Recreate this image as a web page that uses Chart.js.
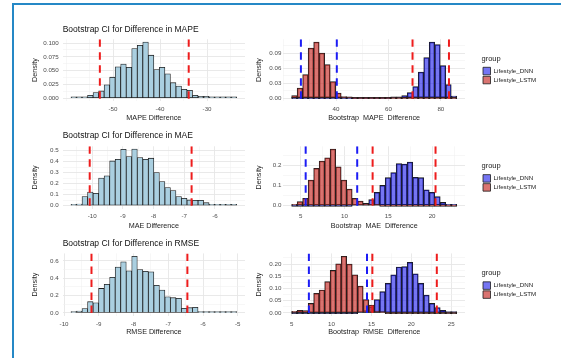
<!DOCTYPE html>
<html>
<head>
<meta charset="utf-8">
<title>Bootstrap CI histograms</title>
<script src="https://cdn.jsdelivr.net/npm/chart.js@4.4.1/dist/chart.umd.min.js"></script>
<style>
  html, body { margin: 0; padding: 0; background: #ffffff; }
  body { width: 561px; height: 358px; position: relative; overflow: hidden; }
  .frame { position: absolute; left: 12px; top: 3px; width: 549px; height: 355px;
           border-left: 2px solid #2588c6; border-top: 2px solid #2588c6; box-sizing: border-box; }
  canvas { position: absolute; }
</style>
</head>
<body>
<div class="frame"></div>
<script>
// ---------------- values ----------------
const groups = ['Lifestyle_DNN', 'Lifestyle_LSTM'];

// Difference in MAPE (bootstrap replicates, density per bin)
const mapeDiffBinStart = -58.94;
const mapeDiffBinWidth = 1.175;
const mapeDiffDensity = [0.002, 0.001, 0.001, 0.005, 0.010, 0.013, 0.024, 0.038, 0.057, 0.062,
                         0.056, 0.090, 0.096, 0.102, 0.078, 0.052, 0.056, 0.044, 0.028, 0.022,
                         0.016, 0.014, 0.005, 0.003, 0.003, 0.001, 0.002, 0.001, 0.001, 0.002];
const mapeDiffCI = [-52.8, -33.9];
const mapeDiffXTicks = [-50, -40, -30];
const mapeDiffXLabels = ['-50', '-40', '-30'];
const mapeDiffYTicks = [0, 0.025, 0.05, 0.075, 0.1];
const mapeDiffYLabels = ['0.000', '0.025', '0.050', '0.075', '0.100'];

// Bootstrap MAPE per model
const mapeBootBinStart = 23.07;
const mapeBootBinWidth = 2.1;
const mapeBootDNN = [0, 0, 0, 0, 0, 0, 0, 0, 0, 0,
                     0, 0, 0, 0, 0, 0, 0, 0, 0.001, 0.002,
                     0.005, 0.011, 0.023, 0.052, 0.081, 0.112, 0.107, 0.065, 0.027, 0.004];
const mapeBootLSTM = [0.005, 0.020, 0.047, 0.100, 0.112, 0.090, 0.067, 0.033, 0.010, 0.003,
                      0.001, 0, 0, 0, 0, 0, 0, 0, 0, 0,
                      0, 0, 0, 0, 0, 0, 0, 0, 0, 0];
const mapeBootCIBlue = [26.6, 40.3];
const mapeBootCIRed = [69.2, 83.1];
const mapeBootXTicks = [40, 60, 80];
const mapeBootXLabels = ['40', '60', '80'];
const mapeBootYTicks = [0, 0.03, 0.06, 0.09];
const mapeBootYLabels = ['0.00', '0.03', '0.06', '0.09'];

// Difference in MAE
const maeDiffBinStart = -10.69;
const maeDiffBinWidth = 0.18;
const maeDiffDensity = [0.003, 0.015, 0.082, 0.124, 0.112, 0.250, 0.270, 0.405, 0.420, 0.510,
                        0.445, 0.512, 0.436, 0.420, 0.430, 0.300, 0.218, 0.164, 0.136, 0.082,
                        0.067, 0.052, 0.048, 0.048, 0.027, 0.006, 0.003, 0.003, 0.012, 0.012];
const maeDiffCI = [-10.08, -6.76];
const maeDiffXTicks = [-10, -9, -8, -7, -6];
const maeDiffXLabels = ['-10', '-9', '-8', '-7', '-6'];
const maeDiffYTicks = [0, 0.1, 0.2, 0.3, 0.4, 0.5];
const maeDiffYLabels = ['0.0', '0.1', '0.2', '0.3', '0.4', '0.5'];

// Bootstrap MAE per model
const maeBootBinStart = 3.97;
const maeBootBinWidth = 0.628;
const maeBootDNN = [0, 0, 0, 0, 0, 0, 0, 0, 0, 0,
                    0, 0.001, 0.003, 0.008, 0.030, 0.066, 0.100, 0.138, 0.163, 0.208,
                    0.205, 0.215, 0.140, 0.138, 0.078, 0.066, 0.045, 0.016, 0.007, 0.003];
const maeBootLSTM = [0.007, 0.020, 0.036, 0.126, 0.184, 0.220, 0.236, 0.279, 0.192, 0.126,
                     0.082, 0.036, 0.023, 0.011, 0.006, 0.002, 0, 0, 0, 0,
                     0, 0, 0, 0, 0, 0, 0, 0, 0, 0];
const maeBootCIBlue = [5.57, 11.45];
const maeBootCIRed = [13.21, 20.39];
const maeBootXTicks = [5, 10, 15, 20];
const maeBootXLabels = ['5', '10', '15', '20'];
const maeBootYTicks = [0, 0.1, 0.2];
const maeBootYLabels = ['0.0', '0.1', '0.2'];

// Difference in RMSE
const rmseDiffBinStart = -9.8;
const rmseDiffBinWidth = 0.159;
const rmseDiffDensity = [0.011, 0.023, 0.050, 0.130, 0.118, 0.283, 0.330, 0.410, 0.530, 0.590,
                         0.485, 0.654, 0.500, 0.480, 0.474, 0.320, 0.264, 0.187, 0.176, 0.168,
                         0.053, 0.061, 0.065, 0.011, 0.011, 0.008, 0.004, 0.004, 0.004, 0.015];
const rmseDiffCI = [-9.21, -6.45];
const rmseDiffXTicks = [-10, -9, -8, -7, -6, -5];
const rmseDiffXLabels = ['-10', '-9', '-8', '-7', '-6', '-5'];
const rmseDiffYTicks = [0, 0.2, 0.4, 0.6];
const rmseDiffYLabels = ['0.0', '0.2', '0.4', '0.6'];

// Bootstrap RMSE per model
const rmseBootBinStart = 5.0;
const rmseBootBinWidth = 0.69;
const rmseBootDNN = [0, 0, 0, 0, 0, 0, 0, 0, 0, 0,
                     0, 0, 0.003, 0.010, 0.025, 0.055, 0.087, 0.121, 0.156, 0.188,
                     0.190, 0.207, 0.160, 0.121, 0.073, 0.039, 0.022, 0.011, 0.006, 0.002];
const rmseBootLSTM = [0.007, 0.011, 0.010, 0.039, 0.080, 0.094, 0.128, 0.174, 0.201, 0.232,
                      0.200, 0.156, 0.110, 0.055, 0.032, 0.008, 0.002, 0, 0, 0,
                      0, 0, 0, 0, 0, 0, 0, 0, 0, 0];
const rmseBootCIBlue = [7.16, 14.45];
const rmseBootCIRed = [15.12, 23.2];
const rmseBootXTicks = [5, 10, 15, 20, 25];
const rmseBootXLabels = ['5', '10', '15', '20', '25'];
const rmseBootYTicks = [0, 0.05, 0.1, 0.15, 0.2];
const rmseBootYLabels = ['0.00', '0.05', '0.10', '0.15', '0.20'];

// ---------------- styles ----------------
const FILL_DIFF = '#AACFE0';
const FILL_DNN = 'rgba(25, 25, 235, 0.6)';
const FILL_LSTM = 'rgba(200, 50, 45, 0.68)';
const OUTLINE = '#1c1c1c';
const CI_RED = '#EE1C1C';
const CI_BLUE = '#1C1CF5';
const GRID_MAJOR = '#E6E6E6';
const GRID_MINOR = '#F1F1F1';
const TEXT_DARK = '#1a1a1a';
const TEXT_TICK = '#4d4d4d';
const SIZE_TITLE = 8.5, SIZE_AXIS = 7.2, SIZE_TICK = 6.2, SIZE_LEGEND_TITLE = 7.5;

Chart.defaults.font.family = "'Liberation Sans', Arial, Helvetica, sans-serif";
Chart.defaults.color = TEXT_TICK;

// Page layout of the 3 x 2 grid of panels (pixels)
const COLS = [
  { left: 14, width: 236, plotLeft: 62.7, plotRight: 245, yTitleX: 34.7, yTickPad: 4 },
  { left: 250, width: 311, plotLeft: 283.4, plotRight: 465, yTitleX: 259, yTickPad: 2 }
];
const ROWS = [
  { top: 6, height: 118, titleY: 29.3, plotTop: 39.2, plotBottom: 100.9, xTitleY: 118 },
  { top: 124, height: 108, titleY: 136, plotTop: 146.3, plotBottom: 208.5, xTitleY: 225.7 },
  { top: 232, height: 112, titleY: 244, plotTop: 253.4, plotBottom: 315.8, xTitleY: 331.7 }
];
const LEGEND_GAP = 16.5;

const PANELS = [
  { row: 0, col: 0, title: 'Bootstrap CI for Difference in MAPE', xTitle: 'MAPE Difference',
    binStart: mapeDiffBinStart, binWidth: mapeDiffBinWidth,
    series: [{ label: 'MAPE difference', values: mapeDiffDensity, fill: FILL_DIFF }],
    ci: [{ values: mapeDiffCI, color: CI_RED }],
    xTicks: mapeDiffXTicks, xLabels: mapeDiffXLabels, yTicks: mapeDiffYTicks, yLabels: mapeDiffYLabels },
  { row: 0, col: 1, xTitle: 'Bootstrap  MAPE  Difference',
    binStart: mapeBootBinStart, binWidth: mapeBootBinWidth,
    series: [{ label: groups[0], values: mapeBootDNN, fill: FILL_DNN },
             { label: groups[1], values: mapeBootLSTM, fill: FILL_LSTM }],
    ci: [{ values: mapeBootCIBlue, color: CI_BLUE }, { values: mapeBootCIRed, color: CI_RED }],
    xTicks: mapeBootXTicks, xLabels: mapeBootXLabels, yTicks: mapeBootYTicks, yLabels: mapeBootYLabels },
  { row: 1, col: 0, title: 'Bootstrap CI for Difference in MAE', xTitle: 'MAE Difference',
    binStart: maeDiffBinStart, binWidth: maeDiffBinWidth,
    series: [{ label: 'MAE difference', values: maeDiffDensity, fill: FILL_DIFF }],
    ci: [{ values: maeDiffCI, color: CI_RED }],
    xTicks: maeDiffXTicks, xLabels: maeDiffXLabels, yTicks: maeDiffYTicks, yLabels: maeDiffYLabels },
  { row: 1, col: 1, xTitle: 'Bootstrap  MAE  Difference',
    binStart: maeBootBinStart, binWidth: maeBootBinWidth,
    series: [{ label: groups[0], values: maeBootDNN, fill: FILL_DNN },
             { label: groups[1], values: maeBootLSTM, fill: FILL_LSTM }],
    ci: [{ values: maeBootCIBlue, color: CI_BLUE }, { values: maeBootCIRed, color: CI_RED }],
    xTicks: maeBootXTicks, xLabels: maeBootXLabels, yTicks: maeBootYTicks, yLabels: maeBootYLabels },
  { row: 2, col: 0, title: 'Bootstrap CI for Difference in RMSE', xTitle: 'RMSE Difference',
    binStart: rmseDiffBinStart, binWidth: rmseDiffBinWidth,
    series: [{ label: 'RMSE difference', values: rmseDiffDensity, fill: FILL_DIFF }],
    ci: [{ values: rmseDiffCI, color: CI_RED }],
    xTicks: rmseDiffXTicks, xLabels: rmseDiffXLabels, yTicks: rmseDiffYTicks, yLabels: rmseDiffYLabels },
  { row: 2, col: 1, xTitle: 'Bootstrap  RMSE  Difference',
    binStart: rmseBootBinStart, binWidth: rmseBootBinWidth,
    series: [{ label: groups[0], values: rmseBootDNN, fill: FILL_DNN },
             { label: groups[1], values: rmseBootLSTM, fill: FILL_LSTM }],
    ci: [{ values: rmseBootCIBlue, color: CI_BLUE }, { values: rmseBootCIRed, color: CI_RED }],
    xTicks: rmseBootXTicks, xLabels: rmseBootXLabels, yTicks: rmseBootYTicks, yLabels: rmseBootYLabels }
];

// ---------------- helpers ----------------
const near = (a, b) => Math.abs(a - b) < 1e-9;

// ggplot-style minor breaks: midpoints between majors plus one extra major step on each side
function minorBreaks(major, lo, hi) {
  const step = major[1] - major[0];
  const ext = [major[0] - step, ...major, major[major.length - 1] + step];
  const out = [];
  for (let i = 0; i < ext.length; i++) {
    if (!major.some(m => near(m, ext[i]))) out.push(ext[i]);
    if (i < ext.length - 1) out.push((ext[i] + ext[i + 1]) / 2);
  }
  return out.filter(v => v > lo && v < hi);
}

function tickSet(major, labels, lo, hi) {
  const all = major.concat(minorBreaks(major, lo, hi)).sort((a, b) => a - b);
  return {
    values: all,
    isMajor: v => major.some(m => near(m, v)),
    label: v => {
      const i = major.findIndex(m => near(m, v));
      return i >= 0 ? labels[i] : '';
    }
  };
}

function gridStyle(ts) {
  return {
    drawTicks: false,
    offset: false,
    color: ctx => (ctx.tick && ts.isMajor(ctx.tick.value)) ? GRID_MAJOR : GRID_MINOR,
    lineWidth: ctx => (ctx.tick && ts.isMajor(ctx.tick.value)) ? 0.9 : 0.55
  };
}

// Places the legend to the right of the plotting area, like a ggplot guide
const legendBeside = {
  id: 'legendBeside',
  afterLayout(chart, args, opts) {
    const lg = chart.legend;
    if (!lg || !lg.options.display) return;
    const area = chart.chartArea;
    lg.left = area.right + opts.gap;
    lg.right = lg.left + lg.width;
    lg.top = area.top;
    lg.bottom = area.bottom;
    lg.height = area.bottom - area.top;
  }
};

function buildPanel(p) {
  const row = ROWS[p.row], col = COLS[p.col];
  const n = p.series[0].values.length;
  const centers = [];
  for (let i = 0; i < n; i++) centers.push(p.binStart + (i + 0.5) * p.binWidth);

  // scale limits with 5% padding around the binned range
  const span = n * p.binWidth;
  const xMin = p.binStart - 0.05 * span;
  const xMax = p.binStart + 1.05 * span;
  const peak = Math.max(...p.series.flatMap(s => s.values));
  const yMin = -0.05 * peak;
  const yMax = 1.05 * peak;

  const xTs = tickSet(p.xTicks, p.xLabels, xMin, xMax);
  const yTs = tickSet(p.yTicks, p.yLabels, yMin, yMax);

  // geometry
  const titleLH = SIZE_TITLE * 1.2, axisLH = SIZE_AXIS * 1.2;
  const yAxisWidth = col.plotLeft - col.left;
  const xAxisHeight = row.xTitleY + axisLH / 2 + 1 - row.plotBottom;
  const padRight = col.left + col.width - col.plotRight;
  const padBottom = row.top + row.height - xAxisHeight - row.plotBottom;
  const hasTitle = !!p.title;
  const padTop = hasTitle ? 0 : row.plotTop - row.top;

  const canvas = document.createElement('canvas');
  canvas.width = col.width;
  canvas.height = row.height;
  canvas.style.left = col.left + 'px';
  canvas.style.top = row.top + 'px';
  canvas.style.width = col.width + 'px';
  canvas.style.height = row.height + 'px';
  document.body.appendChild(canvas);

  const datasets = [];
  const nSeries = p.series.length;
  p.series.forEach((s, k) => {
    datasets.push({
      type: 'bar',
      label: s.label,
      data: centers.map((x, i) => ({ x: x, y: s.values[i] })),
      backgroundColor: s.fill,
      borderColor: OUTLINE,
      borderWidth: 0.8,
      borderSkipped: false,
      barPercentage: 1,
      categoryPercentage: 1,
      grouped: false,
      minBarLength: 1.3,
      order: nSeries - k + 1
    });
  });
  p.ci.forEach(c => {
    c.values.forEach(v => {
      datasets.push({
        type: 'line',
        label: 'CI',
        data: [{ x: v, y: yMax }, { x: v, y: yMin }],
        borderColor: c.color,
        borderWidth: 2,
        borderDash: [7.5, 5.5],
        pointRadius: 0,
        fill: false,
        tension: 0,
        order: 0
      });
    });
  });

  const options = {
    responsive: false,
    animation: false,
    devicePixelRatio: 1,
    events: [],
    layout: { padding: { left: 0, right: padRight, top: padTop, bottom: padBottom } },
    plugins: {
      tooltip: { enabled: false },
      title: {
        display: hasTitle,
        text: p.title || '',
        align: 'start',
        fullSize: false,
        color: '#111111',
        font: { size: SIZE_TITLE, weight: 'normal' },
        padding: {
          top: row.titleY - row.top - titleLH / 2,
          bottom: row.plotTop - row.titleY - titleLH / 2
        }
      },
      legend: {
        display: nSeries > 1,
        position: 'chartArea',
        align: 'center',
        title: {
          display: true, text: 'group', position: 'start', color: TEXT_DARK,
          font: { size: SIZE_LEGEND_TITLE, weight: 'normal' },
          padding: { top: 0, bottom: 2 }
        },
        labels: {
          boxWidth: 7.5, boxHeight: 7.5, padding: 1.5, color: TEXT_DARK,
          font: { size: SIZE_TICK },
          filter: (item, data) => data.datasets[item.datasetIndex].type === 'bar',
          sort: (a, b) => a.datasetIndex - b.datasetIndex
        }
      },
      legendBeside: { gap: LEGEND_GAP }
    },
    scales: {
      x: {
        type: 'linear',
        min: xMin, max: xMax,
        offset: false,
        afterBuildTicks: s => { s.ticks = xTs.values.map(v => ({ value: v })); },
        afterFit: s => { s.height = xAxisHeight; },
        ticks: {
          autoSkip: false, maxRotation: 0, minRotation: 0, padding: 4.5,
          color: TEXT_TICK, font: { size: SIZE_TICK },
          callback: v => xTs.label(v)
        },
        grid: gridStyle(xTs),
        border: { display: false },
        title: {
          display: true, text: p.xTitle, color: TEXT_DARK,
          font: { size: SIZE_AXIS }, padding: { top: 0, bottom: 1 }
        }
      },
      y: {
        type: 'linear',
        min: yMin, max: yMax,
        afterBuildTicks: s => { s.ticks = yTs.values.map(v => ({ value: v })); },
        afterFit: s => { s.width = yAxisWidth; },
        ticks: {
          autoSkip: false, padding: col.yTickPad,
          color: TEXT_TICK, font: { size: SIZE_TICK },
          callback: v => yTs.label(v)
        },
        grid: gridStyle(yTs),
        border: { display: false },
        title: {
          display: true, text: 'Density', color: TEXT_DARK,
          font: { size: SIZE_AXIS },
          padding: { top: col.yTitleX - col.left - axisLH / 2, bottom: 0 }
        }
      }
    }
  };

  new Chart(canvas, {
    type: 'bar',
    data: { datasets: datasets },
    options: options,
    plugins: nSeries > 1 ? [legendBeside] : []
  });
}

PANELS.forEach(buildPanel);
</script>
</body>
</html>
